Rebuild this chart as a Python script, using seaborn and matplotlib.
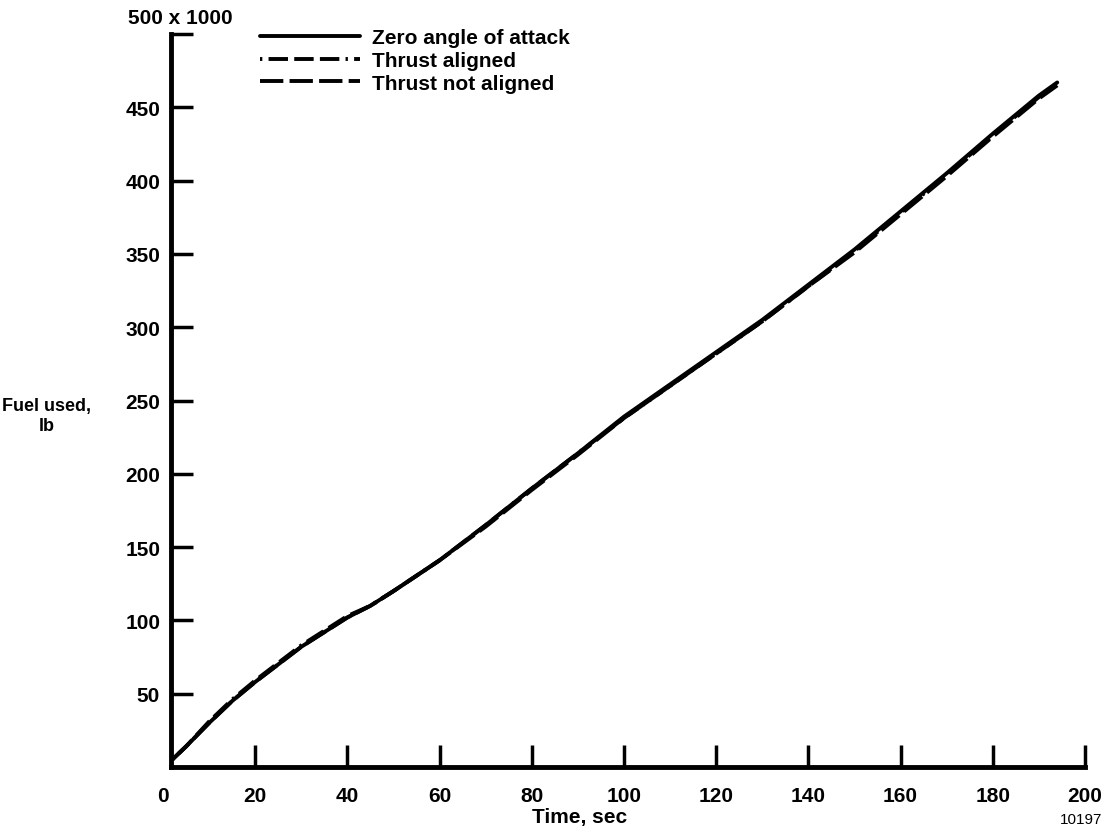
import seaborn as sns
import matplotlib.pyplot as plt
import pandas as pd

# Fuel used vs time (lb in thousands)
time_sec = [2, 5, 10, 15, 20, 25, 30, 35, 40, 45, 50, 60, 70, 80, 90, 100,
            110, 120, 130, 140, 150, 160, 170, 180, 190, 194]
fuel_zero_aoa = [5, 14, 30, 45, 58, 70, 82, 92, 102, 110, 120, 141, 165, 190, 214, 239,
                 261, 283, 305, 329, 353, 379, 405, 432, 458, 467]
fuel_aligned = [5, 14, 31, 46, 59, 71, 83, 93, 103, 110, 120, 141, 165, 190, 214, 238,
                260, 282, 304, 328, 352, 378, 404, 431, 457, 466]
fuel_not_aligned = [5, 14, 30, 45, 58, 70, 82, 92, 102, 110, 120, 141, 164, 189, 213, 238,
                    260, 282, 304, 328, 351, 377, 403, 430, 456, 465]

series_names = ['Zero angle of attack', 'Thrust aligned', 'Thrust not aligned']
x_ticks = [0, 20, 40, 60, 80, 100, 120, 140, 160, 180, 200]
y_ticks = [50, 100, 150, 200, 250, 300, 350, 400, 450, 500]
y_ticklabels = ['50', '100', '150', '200', '250', '300', '350', '400', '450', '']

sns.set_style('ticks')
plt.rcParams['font.family'] = ['Liberation Sans', 'DejaVu Sans']
plt.rcParams['font.weight'] = 'bold'
for k in ['text.color', 'axes.labelcolor', 'xtick.color', 'ytick.color']:
    plt.rcParams[k] = 'black'

fs = 15

fig = plt.figure(figsize=(11.1, 8.37), dpi=100)
ax = fig.add_axes([0.1468, 0.0824, 0.8306, 0.8757])

styles = ['-', (0, (0.6, 1.6, 5, 1.6, 5, 1.6, 5, 1.6)), (0, (6, 1.6))]
for name, vals, ls in zip(series_names, [fuel_zero_aoa, fuel_aligned, fuel_not_aligned], styles):
    sns.lineplot(x=time_sec, y=vals, ax=ax, color='black', lw=2.8, linestyle=ls, label=name)

ax.set_xlim(0, 200)
ax.set_ylim(0, 500)
sns.despine(ax=ax)
ax.spines['left'].set_position(('data', 1.8))
ax.spines['bottom'].set_bounds(1.8, 200)
for s in ['left', 'bottom']:
    ax.spines[s].set_linewidth(3.5)
    ax.spines[s].set_color('black')

ax.set_xticks(x_ticks)
ax.set_xticklabels([str(t) for t in x_ticks], fontsize=fs, fontweight='bold')
ax.set_yticks(y_ticks)
ax.set_yticklabels(y_ticklabels, fontsize=fs, fontweight='bold')
ax.tick_params(axis='both', direction='in', length=16, width=2.5, color='black', pad=8)
ax.tick_params(axis='x', pad=14)
ax.xaxis.get_major_ticks()[0].tick1line.set_visible(False)

ax.text(-7.6, 511.5, '500 x 1000', fontsize=fs, fontweight='bold', ha='left', va='center')
ax.set_xlabel('Time, sec', fontsize=fs, fontweight='bold')
ax.xaxis.set_label_coords(0.452, -0.055)
ax.set_ylabel('Fuel used,\nlb', fontsize=13, fontweight='bold', rotation=0,
              ha='center', va='center')
ax.yaxis.set_label_coords(-0.126, 0.48)
fig.text(0.993, 0.012, '10197', fontsize=11, fontweight='normal', ha='right', va='bottom')

leg = ax.legend(loc='upper left', bbox_to_anchor=(0.105, 1.0085), frameon=False,
                fontsize=fs, handlelength=4.8, handletextpad=0.6, labelspacing=0.19,
                borderpad=0, borderaxespad=0)
for t in leg.get_texts():
    t.set_fontweight('bold')

fig.savefig('out.png', dpi=100)
